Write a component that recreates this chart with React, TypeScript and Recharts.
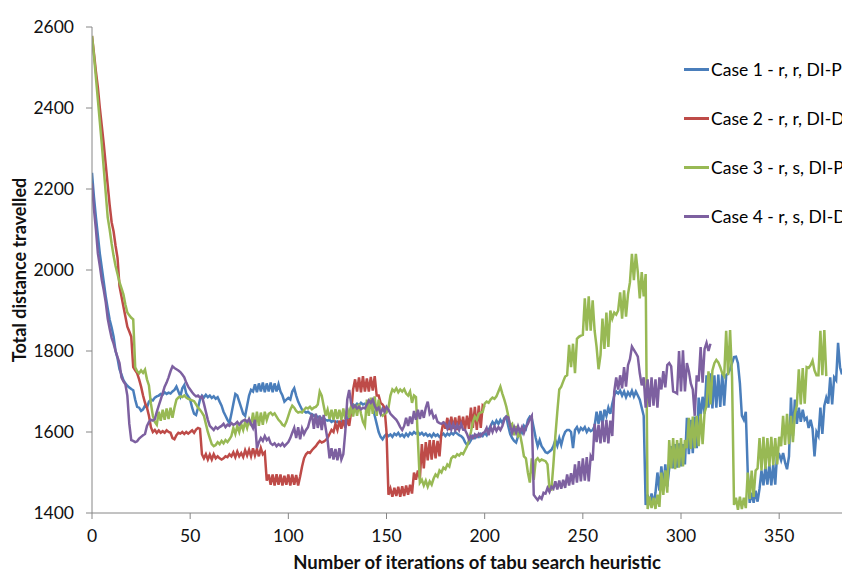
import React from 'react';
import { LineChart, Line, XAxis, YAxis, Label } from 'recharts';

// Iteration index (x axis)
const iterationCount = 383;
const xTicks = [0, 50, 100, 150, 200, 250, 300, 350];
const yTicks = [1400, 1600, 1800, 2000, 2200, 2400, 2600];

const seriesNames = [
  'Case 1 - r, r, DI-P',
  'Case 2 - r, r, DI-D',
  'Case 3 - r, s, DI-P',
  'Case 4 - r, s, DI-D',
];
const seriesColors = ['#4A7EBB', '#BE4B48', '#98B954', '#7D60A0'];

// Case 1 - r, r, DI-P (iterations 0..382)
const case1 = [
  2240, 2180, 2130, 2085, 2040, 2005, 1970, 1935, 1905, 1877,
  1858, 1835, 1800, 1782, 1755, 1742, 1728, 1720, 1714, 1710,
  1706, 1703, 1680, 1662, 1660, 1652, 1656, 1665, 1660, 1675,
  1680, 1678, 1685, 1688, 1690, 1694, 1692, 1698, 1694, 1697,
  1695, 1700, 1704, 1712, 1700, 1688, 1708, 1716, 1695, 1688,
  1680, 1660, 1645, 1642, 1660, 1680, 1690, 1685, 1692, 1686,
  1690, 1684, 1688, 1682, 1686, 1675, 1665, 1650, 1640, 1630,
  1622, 1645, 1670, 1694, 1690, 1675, 1660, 1645, 1640, 1665,
  1690, 1704, 1700, 1718, 1698, 1720, 1700, 1722, 1698, 1720,
  1700, 1722, 1698, 1720, 1700, 1718, 1700, 1690, 1675, 1680,
  1684, 1680, 1700, 1708, 1690, 1675, 1665, 1655, 1652, 1648,
  1650, 1646, 1644, 1640, 1642, 1636, 1638, 1632, 1634, 1630,
  1628, 1630, 1625, 1628, 1624, 1626, 1622, 1626, 1624, 1628,
  1630, 1645, 1662, 1668, 1664, 1670, 1666, 1672, 1668, 1670,
  1666, 1672, 1668, 1660, 1640, 1620, 1600, 1588, 1582, 1590,
  1595, 1590, 1594, 1588, 1596, 1592, 1598, 1590, 1594, 1588,
  1596, 1590, 1598, 1594, 1600, 1596, 1600, 1594, 1598, 1592,
  1596, 1590, 1594, 1588, 1596, 1590, 1594, 1588, 1592, 1596,
  1590, 1596, 1592, 1598, 1594, 1600, 1596, 1592, 1590, 1585,
  1575, 1568, 1572, 1580, 1590, 1585, 1592, 1588, 1595, 1590,
  1598, 1592, 1605, 1615, 1625, 1618, 1628, 1620, 1630, 1622,
  1634, 1638, 1615, 1595, 1585, 1578, 1574, 1590, 1605, 1598,
  1615, 1608, 1630, 1638, 1634, 1610, 1585, 1565, 1580, 1565,
  1558, 1550, 1548, 1552, 1556, 1565, 1580, 1566, 1585, 1568,
  1588, 1600, 1605, 1605, 1600, 1560, 1605, 1612, 1600, 1610,
  1605, 1612, 1600, 1608, 1602, 1605, 1615, 1650, 1620, 1652,
  1618, 1655, 1640, 1660, 1645, 1670, 1690, 1700, 1695, 1702,
  1690, 1700, 1686, 1698, 1690, 1702, 1688, 1700, 1690, 1680,
  1660, 1640, 1420, 1445, 1420, 1448, 1422, 1450, 1500, 1455,
  1515, 1460, 1520, 1465, 1510, 1565, 1510, 1570, 1512, 1572,
  1515, 1570, 1520, 1635, 1545, 1630, 1548, 1638, 1560, 1685,
  1640, 1687, 1645, 1740, 1660, 1745, 1658, 1740, 1660, 1742,
  1662, 1745, 1665, 1740, 1745, 1755, 1770, 1785, 1786, 1770,
  1720, 1640, 1630, 1650, 1500, 1425, 1450, 1425, 1455, 1428,
  1460, 1505, 1468, 1515, 1470, 1520, 1468, 1520, 1470, 1550,
  1545, 1530, 1548, 1525, 1508, 1540, 1685, 1590, 1680, 1620,
  1660, 1625, 1655, 1630, 1635, 1610, 1630, 1608, 1540, 1600,
  1590, 1660, 1595, 1665, 1685, 1670, 1735, 1668, 1735, 1728,
  1820, 1760, 1742,
];

// Case 2 - r, r, DI-D (iterations 0..200)
const case2 = [
  2578, 2535, 2490, 2450, 2400, 2355, 2310, 2260, 2210, 2160,
  2118, 2095, 2060, 2030, 1960, 1935, 1910, 1885, 1860, 1848,
  1835, 1760, 1752, 1745, 1730, 1712, 1690, 1672, 1660, 1640,
  1612, 1600, 1605, 1598, 1604, 1598, 1602, 1598, 1604, 1600,
  1598, 1585, 1582, 1592, 1598, 1596, 1600, 1595, 1600, 1596,
  1600, 1604, 1598, 1606, 1610, 1608, 1545, 1535, 1545, 1532,
  1544, 1532, 1545, 1535, 1540, 1535, 1532, 1535, 1540, 1538,
  1545, 1540, 1550, 1538, 1552, 1540, 1548, 1538, 1555, 1542,
  1556, 1540, 1560, 1542, 1558, 1540, 1560, 1545, 1550, 1480,
  1495, 1470, 1495, 1468, 1496, 1470, 1495, 1468, 1492, 1470,
  1495, 1468, 1495, 1470, 1494, 1468, 1490, 1515, 1535, 1545,
  1550, 1548, 1555, 1560, 1565, 1572, 1578, 1574, 1576, 1580,
  1585, 1595, 1605, 1600, 1620, 1605, 1628, 1608, 1630, 1610,
  1632, 1615, 1650, 1705, 1730, 1700, 1735, 1698, 1738, 1700,
  1732, 1700, 1736, 1702, 1738, 1690, 1690, 1672, 1668, 1660,
  1600, 1445, 1460, 1440, 1462, 1442, 1465, 1440, 1466, 1442,
  1468, 1445, 1470, 1448, 1500, 1482, 1505, 1485, 1570, 1510,
  1575, 1530, 1580, 1532, 1580, 1535, 1578, 1540, 1600, 1625,
  1608, 1635, 1605, 1638, 1608, 1636, 1605, 1640, 1610, 1638,
  1606, 1640, 1608, 1660, 1610, 1662, 1605, 1665, 1610, 1665,
  1660,
];

// Case 3 - r, s, DI-P (iterations 0..374)
const case3 = [
  2578, 2530, 2475, 2420, 2365, 2310, 2250, 2190, 2130, 2100,
  2065, 2035, 2010, 1990, 1970, 1955, 1940, 1915, 1895, 1888,
  1882, 1878, 1760, 1750, 1745, 1752, 1746, 1754, 1730, 1715,
  1670, 1640, 1625, 1618, 1650, 1628, 1655, 1630, 1658, 1632,
  1660, 1635, 1660, 1680, 1685, 1688, 1686, 1690, 1685, 1682,
  1680, 1678, 1676, 1668, 1660, 1655, 1648, 1640, 1620, 1600,
  1585, 1570, 1565, 1568, 1575, 1570, 1578, 1572, 1580, 1575,
  1582, 1590, 1610, 1595, 1615, 1600, 1620, 1605, 1625, 1610,
  1630, 1615, 1648, 1612, 1650, 1615, 1648, 1618, 1650, 1630,
  1645, 1648, 1642, 1646, 1638, 1630, 1625, 1618, 1615, 1625,
  1640, 1655, 1665, 1660, 1652, 1648, 1650, 1648, 1655, 1660,
  1658, 1662, 1656, 1660, 1662, 1668, 1700, 1690, 1665, 1640,
  1655, 1632, 1655, 1630, 1656, 1632, 1655, 1630, 1658, 1632,
  1660, 1635, 1665, 1638, 1668, 1640, 1670, 1645, 1625, 1615,
  1680, 1640, 1685, 1645, 1688, 1640, 1680, 1645, 1640, 1645,
  1648, 1660, 1690, 1705, 1700, 1708, 1698, 1705, 1700, 1706,
  1695, 1690, 1700, 1672, 1690, 1686, 1580, 1475, 1482, 1468,
  1480, 1465, 1478, 1470, 1485, 1495, 1490, 1505, 1500, 1512,
  1508, 1520, 1515, 1535, 1540, 1538, 1545, 1542, 1548, 1545,
  1555, 1565, 1580, 1600, 1625, 1638, 1630, 1645, 1648, 1650,
  1670, 1675, 1672, 1680, 1685, 1682, 1688, 1700, 1712, 1695,
  1680, 1663, 1640, 1615, 1620, 1592, 1615, 1590, 1595, 1570,
  1540, 1535, 1500, 1475, 1535, 1482, 1530, 1535, 1528, 1532,
  1530, 1528, 1520, 1460, 1458, 1520, 1590, 1650, 1705, 1712,
  1725, 1737, 1740, 1815, 1760, 1818, 1745, 1830, 1835, 1838,
  1840, 1930, 1850, 1935, 1850, 1925, 1850, 1810, 1755, 1790,
  1880, 1805, 1895, 1810, 1900, 1880, 1895, 1890, 1900, 1945,
  1880, 1950, 1885, 1940, 1970, 2040, 1975, 2040, 1995, 1930,
  1995, 1935, 1990, 1410, 1440, 1412, 1438, 1410, 1445, 1415,
  1500, 1445, 1505, 1450, 1580, 1510, 1585, 1508, 1580, 1512,
  1585, 1515, 1580, 1560, 1635, 1558, 1638, 1560, 1640, 1565,
  1645, 1570, 1648, 1665, 1750, 1668, 1752, 1770, 1778, 1772,
  1760, 1745, 1738, 1850, 1740, 1852, 1735, 1420, 1438, 1408,
  1440, 1410, 1438, 1412, 1500, 1435, 1505, 1440, 1505, 1510,
  1585, 1505, 1588, 1508, 1585, 1515, 1588, 1518, 1585, 1520,
  1588, 1565, 1640, 1568, 1645, 1570, 1640, 1575, 1646, 1665,
  1755, 1668, 1758, 1670, 1760, 1758, 1765, 1776, 1752, 1740,
  1740, 1850, 1740, 1852, 1738,
];

// Case 4 - r, s, DI-D (iterations 0..315)
const case4 = [
  2214, 2150, 2100, 2041, 2010, 1975, 1950, 1920, 1880, 1855,
  1832, 1818, 1800, 1785, 1770, 1735, 1725, 1718, 1690, 1620,
  1580, 1578, 1575, 1577, 1584, 1588, 1592, 1595, 1615, 1625,
  1630, 1628, 1632, 1650, 1665, 1680, 1696, 1712, 1722, 1735,
  1750, 1762, 1758, 1755, 1752, 1748, 1742, 1735, 1722, 1712,
  1705, 1698, 1692, 1688, 1690, 1685, 1688, 1670, 1650, 1630,
  1615, 1610, 1605, 1612, 1608, 1612, 1615, 1620, 1612, 1618,
  1615, 1622, 1618, 1620, 1625, 1618, 1624, 1628, 1630, 1625,
  1632, 1620, 1610, 1630, 1560, 1575, 1585, 1578, 1590, 1580,
  1585, 1572, 1568, 1572, 1565, 1570, 1566, 1572, 1565, 1570,
  1575, 1585, 1598, 1610, 1585, 1612, 1582, 1608, 1595, 1605,
  1612, 1630, 1645, 1608, 1645, 1610, 1640, 1605, 1642, 1610,
  1580, 1535, 1560, 1532, 1558, 1530, 1560, 1532, 1545, 1600,
  1680, 1704, 1670, 1660, 1665, 1658, 1662, 1656, 1660, 1658,
  1668, 1678, 1672, 1680, 1665, 1655, 1660, 1645, 1658, 1650,
  1662, 1655, 1645, 1640, 1635, 1630, 1622, 1612, 1605, 1615,
  1635, 1615, 1638, 1620, 1652, 1630, 1655, 1632, 1654, 1635,
  1660, 1675, 1645, 1652, 1635, 1640, 1625, 1622, 1620, 1624,
  1620, 1608, 1622, 1606, 1620, 1605, 1618, 1605, 1620, 1606,
  1605, 1595, 1582, 1590, 1585, 1594, 1588, 1596, 1590, 1597,
  1600, 1610, 1592, 1612, 1600, 1614, 1603, 1612, 1605, 1615,
  1630, 1638, 1636, 1615, 1598, 1612, 1598, 1614, 1600, 1612,
  1598, 1612, 1620, 1632, 1640, 1445, 1438, 1432, 1440, 1435,
  1450, 1448, 1462, 1452, 1465, 1460, 1478, 1458, 1480, 1460,
  1482, 1462, 1495, 1468, 1498, 1470, 1520, 1475, 1528, 1478,
  1535, 1480, 1538, 1478, 1540, 1530, 1620, 1575, 1618, 1572,
  1628, 1575, 1630, 1572, 1628, 1590, 1700, 1735, 1705, 1740,
  1708, 1760, 1712, 1765, 1780, 1811, 1803, 1795, 1786, 1745,
  1715, 1735, 1660, 1730, 1662, 1735, 1665, 1730, 1660, 1735,
  1705, 1750, 1710, 1765, 1770, 1762, 1700, 1698, 1695, 1800,
  1700, 1802, 1700, 1770, 1750, 1720, 1705, 1640, 1740, 1725,
  1810, 1722, 1805, 1820, 1800, 1818,
];

const seriesValues = [case1, case2, case3, case4];
const seriesKeys = ['c1', 'c2', 'c3', 'c4'];

const rows = Array.from({ length: iterationCount }, (_, i) => {
  const row: Record<string, number | undefined> = { it: i };
  seriesKeys.forEach((k, s) => {
    row[k] = seriesValues[s][i];
  });
  return row;
});

const FONT = 'Lato, "Open Sans", sans-serif';
const AXIS = '#868686';

export default function App() {
  return (
    <div
      style={{
        position: 'absolute',
        left: 0,
        top: 0,
        width: 842,
        height: 574,
        overflow: 'hidden',
        background: '#fff',
      }}
    >
      <LineChart
        width={842}
        height={574}
        data={rows}
        margin={{ top: 27, right: 0, bottom: 0, left: 0 }}
      >
        <XAxis
          dataKey="it"
          type="number"
          domain={[0, 382]}
          ticks={xTicks}
          allowDataOverflow
          height={61}
          stroke={AXIS}
          tickSize={6}
          tickMargin={11}
          tick={{ fill: '#111', fontSize: 17.5, fontFamily: FONT }}
        >
          <Label
            content={() => (
              <text
                x={477}
                y={569}
                textAnchor="middle"
                fontFamily={FONT}
                fontWeight="bold"
                fontSize={18.5}
                fill="#111"
              >
                Number of iterations of tabu search heuristic
              </text>
            )}
          />
        </XAxis>
        <YAxis
          type="number"
          domain={[1400, 2600]}
          ticks={yTicks}
          allowDataOverflow
          width={92}
          stroke={AXIS}
          tickSize={6}
          tickMargin={12}
          tick={{ fill: '#111', fontSize: 17.5, fontFamily: FONT }}
        >
          <Label
            content={() => (
              <text
                x={26}
                y={270}
                transform="rotate(-90 26 270)"
                textAnchor="middle"
                fontFamily={FONT}
                fontWeight="bold"
                fontSize={18}
                fill="#111"
              >
                Total distance travelled
              </text>
            )}
          />
        </YAxis>
        {seriesKeys.map((k, idx) => (
          <Line
            key={k}
            dataKey={k}
            name={seriesNames[idx]}
            type="linear"
            stroke={seriesColors[idx]}
            strokeWidth={2.5}
            dot={false}
            activeDot={false}
            isAnimationActive={false}
            connectNulls={false}
          />
        ))}
      </LineChart>
      <div
        style={{
          position: 'absolute',
          left: 684,
          top: 45,
          fontFamily: FONT,
          fontSize: 17.5,
          color: '#000',
        }}
      >
        {seriesNames.map((name, idx) => (
          <div
            key={name}
            style={{ display: 'flex', alignItems: 'center', height: 49, whiteSpace: 'nowrap' }}
          >
            <span
              style={{
                display: 'inline-block',
                width: 25,
                height: 3,
                background: seriesColors[idx],
                marginRight: 2,
              }}
            />
            <span>{name}</span>
          </div>
        ))}
      </div>
    </div>
  );
}
